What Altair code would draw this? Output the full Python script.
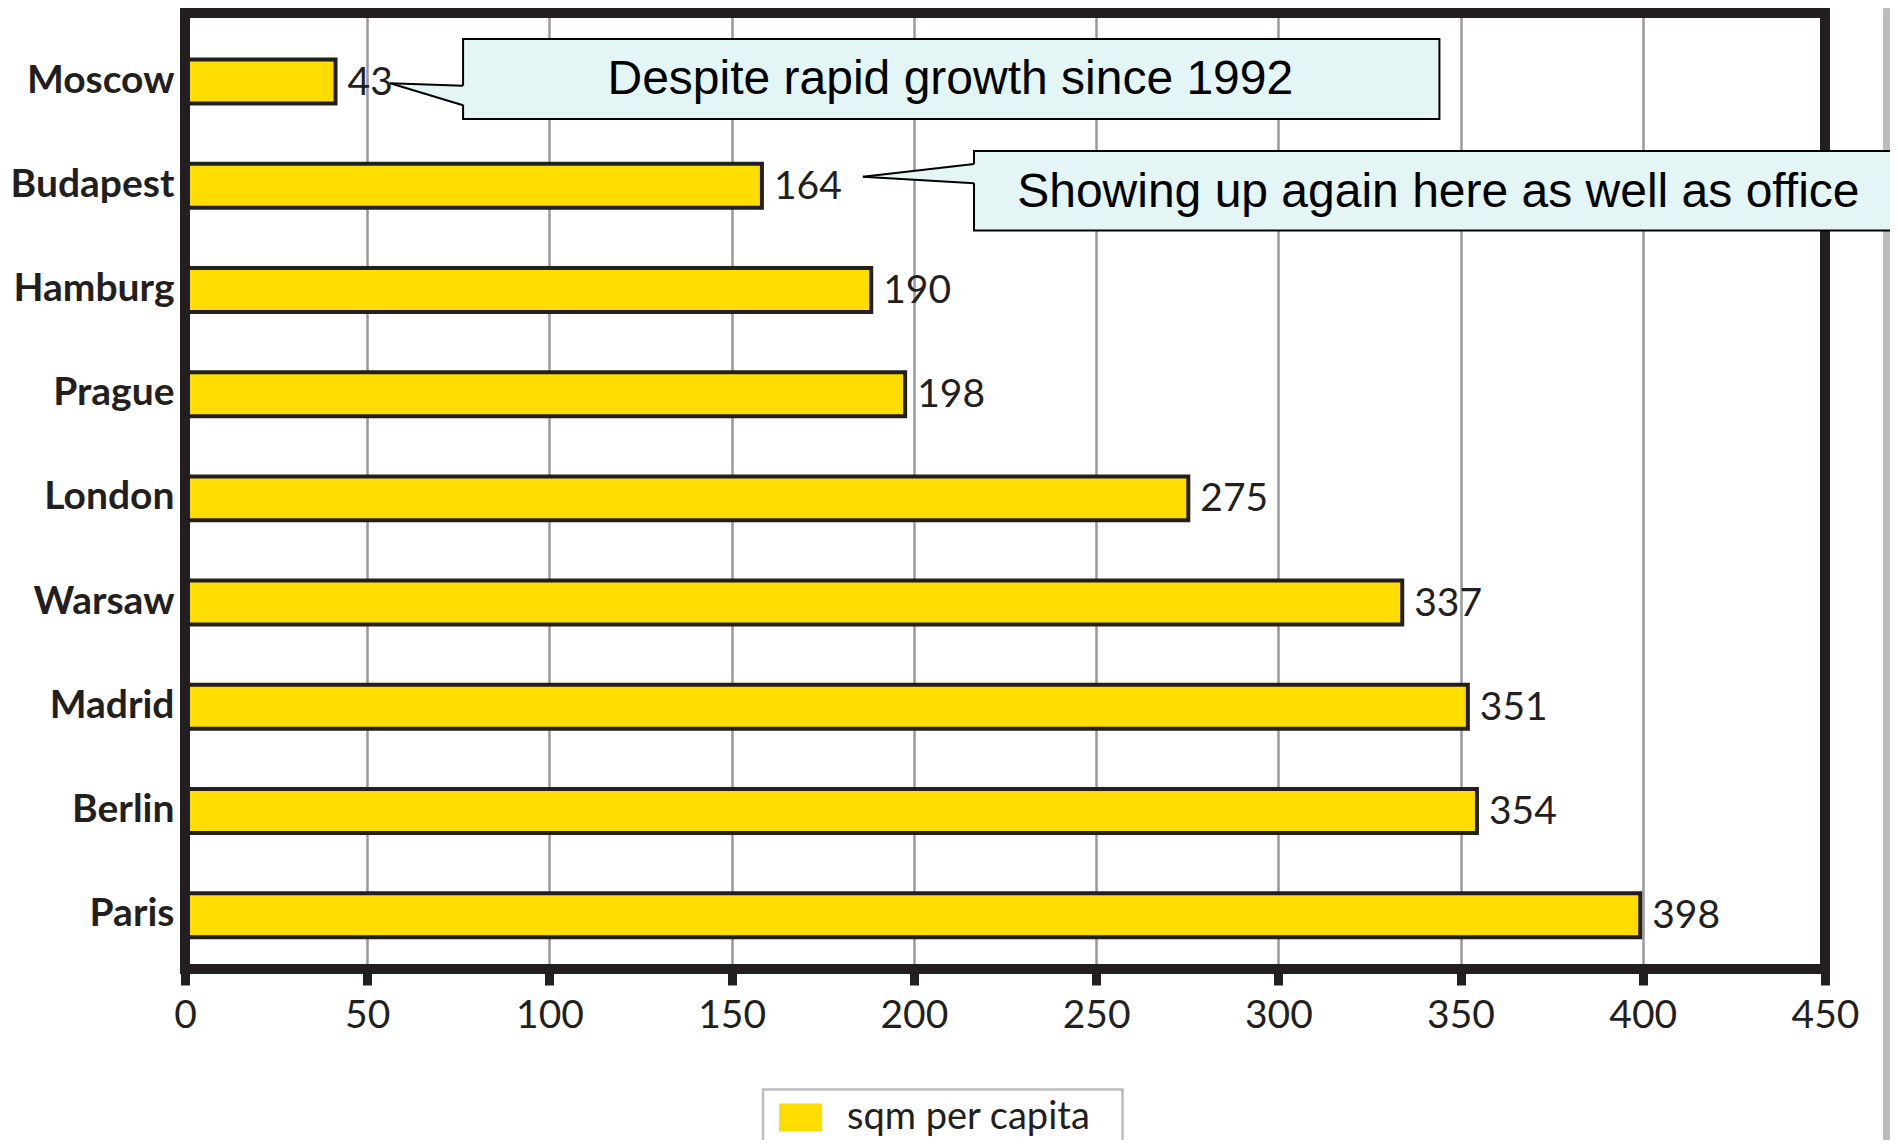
import altair as alt
import pandas as pd

# ---- data ----
cities = ["Moscow", "Budapest", "Hamburg", "Prague", "London",
          "Warsaw", "Madrid", "Berlin", "Paris"]
bar_values = [41.3, 158.3, 188.3, 197.6, 275.3, 334, 352, 354.5, 399.3]
value_labels = ["43", "164", "190", "198", "275", "337", "351", "354", "398"]
x_ticks = [0, 50, 100, 150, 200, 250, 300, 350, 400, 450]
series_name = "sqm per capita"

callout_texts = ["Despite rapid growth since 1992",
                 "Showing up again here as well as office"]
# callout geometry: x in data units, y in pixels from plot top
box_x0 = [76.3, 216.5]
box_x1 = [344.2, 480.0]
box_y0 = [26.0, 138.0]
box_y1 = [106.0, 217.5]
tip_x = [56.3, 186.0]
tip_y = [70.3, 163.7]
base_y0 = [72.7, 151.0]
base_y1 = [92.3, 170.3]
text_x = [210.0, 343.9]
text_y = [81.3, 193.5]

INK = "#231f20"
YELLOW = "#ffdd00"
CYAN = "#e4f5f5"
W, H = 1640, 956

df = pd.DataFrame({"city": cities, "value": bar_values,
                   "label": value_labels, "series": series_name})

xs = alt.Scale(domain=[0, 450], nice=False)
ys = alt.Scale(type="band", paddingInner=0.578, paddingOuter=0.3765, align=0.594)
x_axis = alt.Axis(values=x_ticks, title=None, grid=True,
                  gridColor="#9a9a9e", gridWidth=2.5, domain=False,
                  tickSize=16, tickWidth=9, tickColor=INK,
                  labelFont="Lato", labelFontSize=39, labelColor=INK,
                  labelPadding=11, labelFlush=False)

bars = alt.Chart(df).mark_bar(stroke=INK, strokeWidth=4).encode(
    y=alt.Y("city:N", sort=cities, scale=ys,
            axis=alt.Axis(title=None, domain=False, ticks=False, labelPadding=11,
                          labelOffset=-1,
                          labelFont="Lato", labelFontWeight="bold",
                          labelFontSize=39, labelColor=INK)),
    x=alt.X("value:Q", scale=xs, axis=x_axis),
    color=alt.Color("series:N",
                    scale=alt.Scale(domain=[series_name], range=[YELLOW]),
                    legend=alt.Legend(title=None, orient="none",
                                      legendX=594, legendY=1083,
                                      symbolType="M-1,-0.651L1,-0.651L1,0.651L-1,0.651Z",
                                      symbolSize=1849, symbolStrokeWidth=0,
                                      symbolOpacity=1, labelLimit=0,
                                      labelFont="Lato", labelFontSize=38,
                                      labelColor=INK, labelOffset=25, padding=0)),
)

labels = alt.Chart(df).mark_text(align="left", baseline="middle", dx=12, dy=1,
                                 font="Lato", fontSize=39, color=INK).encode(
    y=alt.Y("city:N", sort=cities, scale=ys, axis=None),
    x=alt.X("value:Q", scale=xs, axis=x_axis),
    text="label:N",
)

frame_df = pd.DataFrame({"x0": [x_ticks[0]], "x1": [x_ticks[-1]]})
frame = alt.Chart(frame_df).mark_rect(filled=False, color=INK, strokeWidth=10).encode(
    x=alt.X("x0:Q", scale=xs, axis=x_axis), x2="x1:Q",
    y=alt.value(0), y2=alt.value(H),
)

edge = alt.Chart(frame_df).mark_rule(color="#bcbcc0", strokeWidth=9).encode(
    x=alt.value(1702.5), y=alt.value(-13), y2=alt.value(1135),
)

cdf = pd.DataFrame({"text": callout_texts, "bx0": box_x0, "bx1": box_x1,
                    "by0": box_y0, "by1": box_y1, "tx": text_x, "ty": text_y})
boxes = alt.Chart(cdf).mark_rect(fill=CYAN, stroke="#000000", strokeWidth=2).encode(
    x=alt.X("bx0:Q", scale=xs, axis=x_axis), x2="bx1:Q",
    y=alt.Y("by0:Q", scale=None, axis=None), y2="by1:Q",
)

tri_rows = []
for i in range(len(callout_texts)):
    tri_rows.append({"cid": i, "px": tip_x[i], "py0": tip_y[i], "py1": tip_y[i]})
    tri_rows.append({"cid": i, "px": box_x0[i] + 0.5, "py0": base_y0[i], "py1": base_y1[i]})
tri_df = pd.DataFrame(tri_rows)
tris = alt.Chart(tri_df).mark_area(color=CYAN, orient="vertical", opacity=1).encode(
    x=alt.X("px:Q", scale=xs, axis=x_axis),
    y=alt.Y("py0:Q", scale=None, axis=None), y2="py1:Q",
    detail="cid:N",
)

line_rows = []
for i in range(len(callout_texts)):
    line_rows.append({"lx0": tip_x[i], "lx1": box_x0[i], "ly0": tip_y[i], "ly1": base_y0[i]})
    line_rows.append({"lx0": tip_x[i], "lx1": box_x0[i], "ly0": tip_y[i], "ly1": base_y1[i]})
line_df = pd.DataFrame(line_rows)
pointers = alt.Chart(line_df).mark_rule(color="#000000", strokeWidth=2).encode(
    x=alt.X("lx0:Q", scale=xs, axis=x_axis), x2="lx1:Q",
    y=alt.Y("ly0:Q", scale=None, axis=None), y2="ly1:Q",
)

ctext = alt.Chart(cdf).mark_text(font="Liberation Sans", fontSize=48, align="center",
                                 baseline="alphabetic", color="#000000").encode(
    x=alt.X("tx:Q", scale=xs, axis=x_axis),
    y=alt.Y("ty:Q", scale=None, axis=None),
    text="text:N",
)

legend_box = alt.Chart(frame_df).mark_rect(filled=False, color="#bdbdc1", strokeWidth=2.5).encode(
    x=alt.value(578), x2=alt.value(937.5), y=alt.value(1076.5), y2=alt.value(1170),
)

chart = alt.layer(
    bars, labels, frame, edge, boxes, tris, pointers, ctext, legend_box
).properties(
    width=W, height=H,
    autosize=alt.AutoSizeParams(type="none"),
    padding={"left": 177, "top": 5, "right": 65, "bottom": 171},
    background="white",
).resolve_scale(y="independent").configure_view(strokeWidth=0)

chart.save("out.html", embed_options={"renderer": "svg", "actions": False})
